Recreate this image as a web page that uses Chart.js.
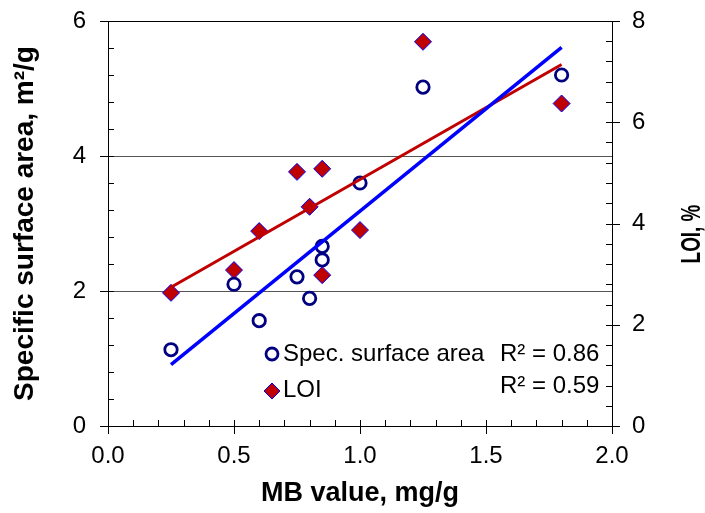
<!DOCTYPE html>
<html>
<head>
<meta charset="utf-8">
<script src="https://cdn.jsdelivr.net/npm/chart.js@4"></script>
<style>
  html, body { margin: 0; padding: 0; background: #fff; }
  #wrap { width: 705px; height: 513px; position: relative; }
</style>
</head>
<body>
<div id="wrap"><canvas id="c" width="705" height="513"></canvas></div>
<script>
// ---- data ----
const mbValues  = [0.25, 0.50, 0.60, 0.75, 0.80, 0.85, 0.85, 1.00, 1.25, 1.80];
const ssaValues = [1.13, 2.10, 1.56, 2.21, 1.89, 2.66, 2.46, 3.60, 5.02, 5.20];
const loiMb     = [0.25, 0.50, 0.60, 0.75, 0.80, 0.85, 0.85, 1.00, 1.25, 1.80];
const loiValues = [2.63, 3.08, 3.85, 5.02, 4.33, 5.08, 2.98, 3.87, 7.59, 6.37];
const trendX    = [0.25, 1.80];
const ssaTrend  = [0.91, 5.61];
const loiTrend  = [2.74, 7.14];
const xTicks    = [0.0, 0.5, 1.0, 1.5, 2.0];
const yLeftTicks  = [0, 2, 4, 6];
const yRightTicks = [0, 2, 4, 6, 8];
const legendLabels = ['Spec. surface area', 'LOI'];
const r2Labels = ['R\u00B2 = 0.86', 'R\u00B2 = 0.59'];

const FONT = "'Liberation Sans', Arial, sans-serif";

const ssaPts = mbValues.map((x, i) => ({ x, y: ssaValues[i] }));
const loiPts = loiMb.map((x, i) => ({ x, y: loiValues[i] }));
const ssaLine = trendX.map((x, i) => ({ x, y: ssaTrend[i] }));
const loiLine = trendX.map((x, i) => ({ x, y: loiTrend[i] }));

const NAVY = '#000080', RED = '#c00000', BLUE = '#0000ff';

const decorPlugin = {
  id: 'decor',
  afterDraw(chart) {
    const ctx = chart.ctx;
    const xs = chart.scales.x, yl = chart.scales.y, yr = chart.scales.y1;
    const a = chart.chartArea;
    ctx.save();
    ctx.strokeStyle = '#000';
    ctx.lineWidth = 1;
    ctx.beginPath();
    // top border
    ctx.moveTo(a.left, Math.round(a.top) + 0.5);
    ctx.lineTo(a.right, Math.round(a.top) + 0.5);
    // x ticks: minor every 0.1 inward, major every 0.5 both sides
    for (let i = 0; i <= 20; i++) {
      const px = Math.round(xs.getPixelForValue(i / 10)) + 0.5;
      const b = Math.round(a.bottom);
      if (i % 5 === 0) { ctx.moveTo(px, b - 6); ctx.lineTo(px, b + 8); }
      else { ctx.moveTo(px, b - 6); ctx.lineTo(px, b); }
    }
    // left y ticks: minor every 0.4 inward, major every 2 outward
    for (let i = 0; i <= 15; i++) {
      const py = Math.round(yl.getPixelForValue(i * 0.4)) + 0.5;
      const l = Math.round(a.left);
      if (i % 5 === 0) { ctx.moveTo(l - 8, py); ctx.lineTo(l + 6, py); }
      else { ctx.moveTo(l, py); ctx.lineTo(l + 6, py); }
    }
    // right y ticks
    for (let i = 0; i <= 20; i++) {
      const py = Math.round(yr.getPixelForValue(i * 0.4)) + 0.5;
      const r = Math.round(a.right);
      if (i % 5 === 0) { ctx.moveTo(r - 6, py); ctx.lineTo(r + 8, py); }
      else { ctx.moveTo(r - 6, py); ctx.lineTo(r, py); }
    }
    ctx.stroke();

    // right axis title (reads bottom to top)
    ctx.save();
    ctx.translate(693, 234);
    ctx.rotate(-Math.PI / 2);
    ctx.scale(0.7, 1);
    ctx.fillStyle = '#000';
    ctx.font = 'bold 27px ' + FONT;
    ctx.textAlign = 'center';
    ctx.textBaseline = 'middle';
    ctx.fillText('LOI, %', 0, 0);
    ctx.restore();

    // legend
    ctx.fillStyle = '#000';
    ctx.font = '24px ' + FONT;
    ctx.textAlign = 'left';
    ctx.textBaseline = 'middle';
    ctx.fillText(legendLabels[0], 283, 354);
    ctx.fillText(legendLabels[1], 283, 390);
    ctx.fillText(r2Labels[0], 500, 354);
    ctx.fillText(r2Labels[1], 500, 386);
    // legend markers
    ctx.beginPath();
    ctx.arc(272, 354, 6, 0, Math.PI * 2);
    ctx.lineWidth = 2.8;
    ctx.strokeStyle = NAVY;
    ctx.stroke();
    ctx.beginPath();
    ctx.moveTo(264, 391); ctx.lineTo(272, 383); ctx.lineTo(280, 391); ctx.lineTo(272, 399); ctx.closePath();
    ctx.fillStyle = RED; ctx.fill();
    ctx.lineWidth = 1; ctx.strokeStyle = BLUE; ctx.stroke();
    ctx.restore();
  }
};

new Chart(document.getElementById('c'), {
  type: 'scatter',
  data: {
    datasets: [
      { label: 'SSA trend', data: ssaLine, showLine: true, borderColor: BLUE, borderWidth: 3.5,
        pointRadius: 0, yAxisID: 'y', order: 0 },
      { label: 'LOI trend', data: loiLine, showLine: true, borderColor: RED, borderWidth: 3,
        pointRadius: 0, yAxisID: 'y1', order: 0 },
      { label: legendLabels[0], data: ssaPts, pointStyle: 'circle', pointRadius: 6.2, borderWidth: 2.8,
        borderColor: NAVY, backgroundColor: 'rgba(0,0,0,0)', yAxisID: 'y', order: 1 },
      { label: legendLabels[1], data: loiPts, pointStyle: 'rectRot', pointRadius: 8.5, borderWidth: 1,
        borderColor: BLUE, backgroundColor: RED, yAxisID: 'y1', order: 1 }
    ]
  },
  options: {
    responsive: false,
    animation: false,
    events: [],
    layout: { padding: { top: 21, left: 0, right: 0, bottom: 0 } },
    plugins: { legend: { display: false }, tooltip: { enabled: false } },
    scales: {
      x: {
        type: 'linear', min: 0, max: 2,
        afterBuildTicks: s => { s.ticks = xTicks.map(v => ({ value: v })); },
        ticks: { color: '#000', font: { family: FONT, size: 24 }, padding: 16,
                 callback: v => Number(v).toFixed(1), maxRotation: 0 },
        grid: { display: false, drawTicks: false },
        border: { display: true, color: '#000', width: 1 },
        title: { display: true, text: 'MB value, mg/g', color: '#000',
                 font: { family: FONT, size: 27, weight: 'bold' }, padding: { top: 0, bottom: 3 } },
        afterFit: s => { s.height = 87; s.paddingLeft = 0; s.paddingRight = 0; }
      },
      y: {
        type: 'linear', position: 'left', min: 0, max: 6,
        afterBuildTicks: s => { s.ticks = yLeftTicks.map(v => ({ value: v })); },
        ticks: { color: '#000', font: { family: FONT, size: 24 }, padding: 22 },
        grid: { drawTicks: false, lineWidth: 1,
                color: c => (c.tick && (c.tick.value === 2 || c.tick.value === 4)) ? '#555' : 'rgba(0,0,0,0)' },
        border: { display: true, color: '#000', width: 1 },
        title: { display: true, text: 'Specific surface area, m\u00B2/g', color: '#000',
                 font: { family: FONT, size: 28, weight: 'bold' }, padding: { top: 8, bottom: 0 } },
        afterFit: s => { s.width = 108; s.paddingTop = 0; s.paddingBottom = 0; }
      },
      y1: {
        type: 'linear', position: 'right', min: 0, max: 8,
        afterBuildTicks: s => { s.ticks = yRightTicks.map(v => ({ value: v })); },
        ticks: { color: '#000', font: { family: FONT, size: 24 }, padding: 20 },
        grid: { display: false, drawTicks: false },
        border: { display: true, color: '#000', width: 1 },
        afterFit: s => { s.width = 93; s.paddingTop = 0; s.paddingBottom = 0; }
      }
    }
  },
  plugins: [decorPlugin]
});
</script>
</body>
</html>
